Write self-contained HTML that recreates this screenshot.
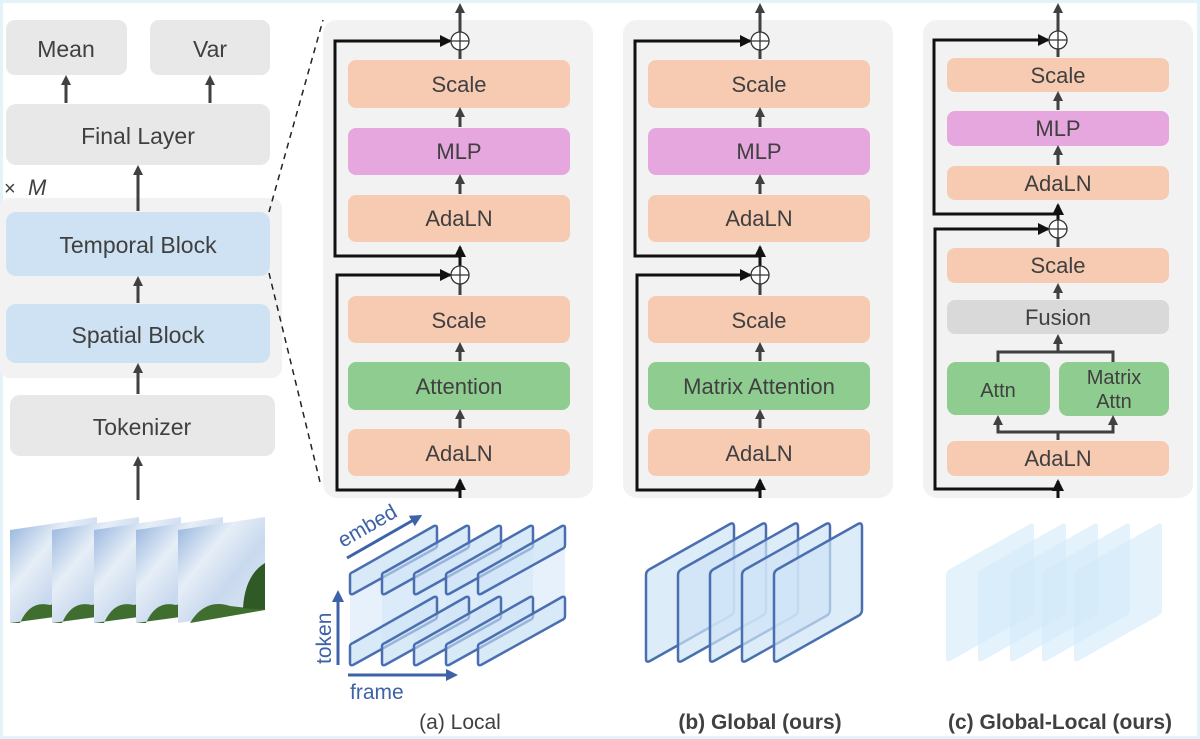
<!DOCTYPE html>
<html><head><meta charset="utf-8"><style>
html,body{margin:0;padding:0;background:#fff}
svg{display:block}
text{font-family:"Liberation Sans","DejaVu Sans",sans-serif;fill:#404040}
</style></head><body>
<svg width="1200" height="739" viewBox="0 0 1200 739" xmlns="http://www.w3.org/2000/svg">
<defs>
<marker id="ah" markerWidth="10" markerHeight="10" refX="5" refY="5" orient="auto" markerUnits="userSpaceOnUse">
<path d="M0,0 L10,5 L0,10 Z" fill="#404040"/></marker>
<marker id="ak" markerWidth="12" markerHeight="12" refX="10" refY="6" orient="auto" markerUnits="userSpaceOnUse">
<path d="M0,0 L12,6 L0,12 Z" fill="#111"/></marker>
<marker id="ab" markerWidth="12" markerHeight="12" refX="6" refY="6" orient="auto" markerUnits="userSpaceOnUse">
<path d="M0,0 L12,6 L0,12 Z" fill="#3d62a8"/></marker>
<linearGradient id="sky" x1="0" y1="0" x2="1" y2="1">
<stop offset="0" stop-color="#8fb0dc"/><stop offset="0.35" stop-color="#e6eef7"/><stop offset="0.6" stop-color="#c9d9ee"/><stop offset="1" stop-color="#dfe8f3"/></linearGradient>
</defs>
<rect x="0" y="0" width="1200" height="739" fill="#fff" stroke="#e4f2f9" stroke-width="6"/>

<!-- left column -->
<rect x="0" y="198" width="282" height="180" rx="10" fill="#f2f2f2"/>
<rect x="6" y="20" width="121" height="55" rx="9" fill="#e8e8e8"/>
<rect x="150" y="20" width="120" height="55" rx="9" fill="#e8e8e8"/>
<rect x="6" y="104" width="264" height="61" rx="10" fill="#e8e8e8"/>
<rect x="6" y="212" width="264" height="64" rx="10" fill="#cfe2f3"/>
<rect x="6" y="304" width="264" height="59" rx="10" fill="#cfe2f3"/>
<rect x="10" y="395" width="265" height="61" rx="10" fill="#e8e8e8"/>
<g font-size="23" text-anchor="middle">
<text x="66" y="57">Mean</text><text x="210" y="57">Var</text>
<text x="138" y="144">Final Layer</text>
<text x="138" y="253">Temporal Block</text>
<text x="138" y="343">Spatial Block</text>
<text x="142" y="435">Tokenizer</text>
</g>
<text x="4" y="195" font-size="20" fill="#111">×</text>
<text x="28" y="195" font-size="22" font-style="italic" font-family="Liberation Serif,serif" fill="#111">M</text>
<g stroke="#404040" stroke-width="3" fill="none">
<line x1="66" y1="103" x2="66" y2="80" marker-end="url(#ah)"/>
<line x1="210" y1="103" x2="210" y2="80" marker-end="url(#ah)"/>
<line x1="138" y1="211" x2="138" y2="170" marker-end="url(#ah)"/>
<line x1="138" y1="303" x2="138" y2="281" marker-end="url(#ah)"/>
<line x1="138" y1="394" x2="138" y2="368" marker-end="url(#ah)"/>
<line x1="138" y1="500" x2="138" y2="461" marker-end="url(#ah)"/>
</g>
<g stroke="#222" stroke-width="1.5" stroke-dasharray="6,5">
<line x1="269" y1="212" x2="323" y2="20"/>
<line x1="269" y1="273" x2="320" y2="482"/>
</g>

<!-- panel a & b template -->
<g id="pa">
<rect x="323" y="20" width="270" height="478" rx="14" fill="#f2f2f2"/>
<rect x="348" y="60" width="222" height="48" rx="8" fill="#f7cab2"/>
<rect x="348" y="128" width="222" height="47" rx="8" fill="#e6a6de"/>
<rect x="348" y="195" width="222" height="47" rx="8" fill="#f7cab2"/>
<rect x="348" y="296" width="222" height="47" rx="8" fill="#f7cab2"/>
<rect x="348" y="362" width="222" height="48" rx="8" fill="#8ecc90"/>
<rect x="348" y="429" width="222" height="47" rx="8" fill="#f7cab2"/>
<g stroke="#404040" stroke-width="3" fill="none">
<line x1="460" y1="32" x2="460" y2="8" marker-end="url(#ah)"/>
<line x1="460" y1="59" x2="460" y2="50"/>
<line x1="460" y1="127" x2="460" y2="112" marker-end="url(#ah)"/>
<line x1="460" y1="194" x2="460" y2="179" marker-end="url(#ah)"/>
<line x1="460" y1="295" x2="460" y2="284"/>
<line x1="460" y1="361" x2="460" y2="347" marker-end="url(#ah)"/>
<line x1="460" y1="428" x2="460" y2="414" marker-end="url(#ah)"/>
</g>
<g stroke="#111" stroke-width="3" fill="none">
<line x1="460" y1="266" x2="460" y2="247" marker-end="url(#ak)"/>
<line x1="460" y1="498" x2="460" y2="480" marker-end="url(#ak)"/>
<polyline points="460,256 335,256 335,41 450,41" marker-end="url(#ak)"/>
<polyline points="460,490 337,490 337,275 450,275" marker-end="url(#ak)"/>
</g>
<g stroke="#333" stroke-width="1.3" fill="#fff">
<circle cx="460" cy="41" r="9"/><circle cx="460" cy="275" r="9"/></g>
<g stroke="#333" stroke-width="1.3"><line x1="451" y1="41" x2="469" y2="41"/><line x1="460" y1="32" x2="460" y2="50"/>
<line x1="451" y1="275" x2="469" y2="275"/><line x1="460" y1="266" x2="460" y2="284"/></g>
<g font-size="22" text-anchor="middle">
<text x="459" y="92">Scale</text><text x="459" y="159">MLP</text><text x="459" y="226">AdaLN</text>
<text x="459" y="328">Scale</text><text x="459" y="461">AdaLN</text></g>
</g>
<text x="459" y="394" font-size="22" text-anchor="middle">Attention</text>
<use href="#pa" transform="translate(300,0)"/>
<text x="759" y="394" font-size="22" text-anchor="middle">Matrix Attention</text>

<!-- panel c -->
<rect x="923" y="20" width="270" height="478" rx="14" fill="#f2f2f2"/>
<rect x="947" y="58" width="222" height="34" rx="8" fill="#f7cab2"/>
<rect x="947" y="111" width="222" height="35" rx="8" fill="#e6a6de"/>
<rect x="947" y="166" width="222" height="34" rx="8" fill="#f7cab2"/>
<rect x="947" y="248" width="222" height="35" rx="8" fill="#f7cab2"/>
<rect x="947" y="300" width="222" height="34" rx="8" fill="#d9d9d9"/>
<rect x="947" y="362" width="103" height="53" rx="9" fill="#8ecc90"/>
<rect x="1059" y="362" width="110" height="54" rx="9" fill="#8ecc90"/>
<rect x="947" y="441" width="222" height="35" rx="8" fill="#f7cab2"/>
<g stroke="#404040" stroke-width="3" fill="none">
<line x1="1058" y1="31" x2="1058" y2="8" marker-end="url(#ah)"/>
<line x1="1058" y1="57" x2="1058" y2="49"/>
<line x1="1058" y1="110" x2="1058" y2="96" marker-end="url(#ah)"/>
<line x1="1058" y1="165" x2="1058" y2="150" marker-end="url(#ah)"/>
<line x1="1058" y1="247" x2="1058" y2="238"/>
<line x1="1058" y1="299" x2="1058" y2="288" marker-end="url(#ah)"/>
<polyline points="998,362 998,352 1113,352 1113,362"/>
<line x1="1058" y1="352" x2="1058" y2="339" marker-end="url(#ah)"/>
<line x1="1058" y1="440" x2="1058" y2="432"/>
<polyline points="998,420 998,432 1113,432 1113,420"/>
<line x1="998" y1="430" x2="998" y2="420" marker-end="url(#ah)"/>
<line x1="1113" y1="430" x2="1113" y2="420" marker-end="url(#ah)"/>
</g>
<g stroke="#111" stroke-width="3" fill="none">
<line x1="1058" y1="220" x2="1058" y2="205" marker-end="url(#ak)"/>
<line x1="1058" y1="498" x2="1058" y2="481" marker-end="url(#ak)"/>
<polyline points="1058,214 934,214 934,40 1048,40" marker-end="url(#ak)"/>
<polyline points="1058,489 935,489 935,229 1048,229" marker-end="url(#ak)"/>
</g>
<g stroke="#333" stroke-width="1.3" fill="#fff"><circle cx="1058" cy="40" r="9"/><circle cx="1058" cy="229" r="9"/></g>
<g stroke="#333" stroke-width="1.3"><line x1="1049" y1="40" x2="1067" y2="40"/><line x1="1058" y1="31" x2="1058" y2="49"/>
<line x1="1049" y1="229" x2="1067" y2="229"/><line x1="1058" y1="220" x2="1058" y2="238"/></g>
<g font-size="22" text-anchor="middle">
<text x="1058" y="83">Scale</text><text x="1058" y="136">MLP</text><text x="1058" y="191">AdaLN</text>
<text x="1058" y="273">Scale</text><text x="1058" y="325">Fusion</text>
<text x="998" y="397" font-size="20">Attn</text>
<text x="1114" y="384" font-size="20">Matrix</text><text x="1114" y="408" font-size="20">Attn</text>
<text x="1058" y="466">AdaLN</text></g>

<!-- video frames -->
<g>
<g id="fr">
<polygon points="10,530 97,517 97,612 10,623" fill="url(#sky)"/>
<path d="M20,623 Q30,600 50,605 Q70,598 90,612 L10,623Z" fill="#3f6e2e"/>
</g>
<use href="#fr" transform="translate(42,0)"/>
<use href="#fr" transform="translate(84,0)"/>
<use href="#fr" transform="translate(126,0)"/>
<polygon points="178,530 265,517 265,610 178,623" fill="url(#sky)"/>
<path d="M190,623 Q205,598 230,606 L265,610Z" fill="#3f6e2e"/>
<path d="M243,608 Q245,575 265,563 L265,610Z" fill="#2f5a25"/>
</g>

<!-- panel a tokens -->
<g fill="#d5e8f8" fill-opacity="0.6">
<polygon points="350,572 437,525 437,620 350,665"/>
<polygon points="382,572 469,525 469,620 382,665"/>
<polygon points="414,572 501,525 501,620 414,665"/>
<polygon points="446,572 533,525 533,620 446,665"/>
<polygon points="478,572 565,525 565,620 478,665"/>
</g>
<g id="slab" fill="#cfe4f7" fill-opacity="0.6" stroke="#4a6fb0" stroke-width="2.5" stroke-linejoin="round">
<path d="M353,572 L434,526 Q437,525 437,528 L437,545 Q437,548 434,549 L353,594 Q350,595 350,592 L350,575 Q350,573 353,572Z"/>
</g>
<use href="#slab" transform="translate(32,0)"/><use href="#slab" transform="translate(64,0)"/>
<use href="#slab" transform="translate(96,0)"/><use href="#slab" transform="translate(128,0)"/>
<use href="#slab" transform="translate(0,71)"/><use href="#slab" transform="translate(32,71)"/>
<use href="#slab" transform="translate(64,71)"/><use href="#slab" transform="translate(96,71)"/>
<use href="#slab" transform="translate(128,71)"/>
<g stroke="#3d62a8" stroke-width="3" fill="none">
<line x1="338" y1="665" x2="338" y2="596" marker-end="url(#ab)"/>
<line x1="348" y1="675" x2="452" y2="675" marker-end="url(#ab)"/>
<line x1="347" y1="558" x2="417" y2="518" marker-end="url(#ab)"/>
</g>
<text x="350" y="699" font-size="21" style="fill:#3d62a8">frame</text>
<text transform="translate(331,664) rotate(-90)" font-size="21" style="fill:#3d62a8">token</text>
<text transform="translate(343,548) rotate(-30)" font-size="21" style="fill:#3d62a8">embed</text>

<!-- panel b tokens -->
<g id="pl" fill="#cfe4f7" fill-opacity="0.7" stroke="#4a6fb0" stroke-width="2.5" stroke-linejoin="round">
<path d="M650,569 L730,524 Q734,522 734,527 L734,610 Q734,614 730,616 L650,661 Q646,663 646,659 L646,575 Q646,571 650,569Z"/>
</g>
<use href="#pl" transform="translate(32,0)"/><use href="#pl" transform="translate(64,0)"/>
<use href="#pl" transform="translate(96,0)"/><use href="#pl" transform="translate(128,0)"/>
<!-- panel c tokens -->
<g opacity="0.75">
<g id="plc" fill="#c4e2f8" fill-opacity="0.6">
<path d="M950,569 L1030,524 Q1034,522 1034,527 L1034,610 Q1034,614 1030,616 L950,661 Q946,663 946,659 L946,575 Q946,571 950,569Z"/>
</g>
<use href="#plc" transform="translate(32,0)"/><use href="#plc" transform="translate(64,0)"/>
<use href="#plc" transform="translate(96,0)"/><use href="#plc" transform="translate(128,0)"/>
</g>

<!-- captions -->
<text x="460" y="729" font-size="21" text-anchor="middle">(a) Local</text>
<text x="760" y="729" font-size="21" font-weight="bold" text-anchor="middle">(b) Global (ours)</text>
<text x="1060" y="729" font-size="21" font-weight="bold" text-anchor="middle">(c) Global-Local (ours)</text>
</svg>
</body></html>
